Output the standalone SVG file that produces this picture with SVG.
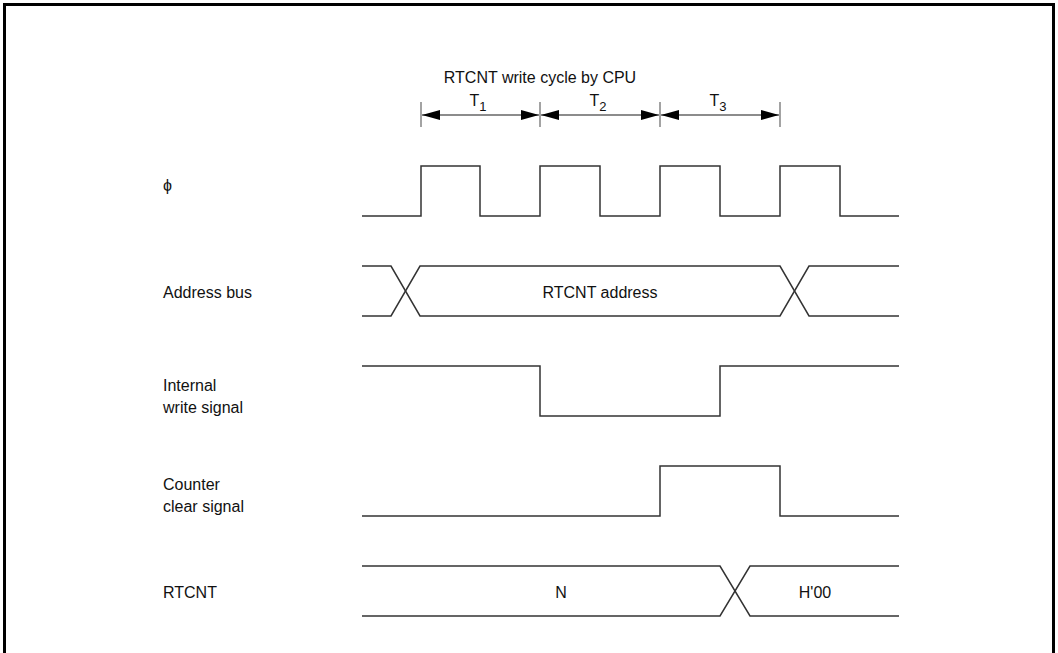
<svg xmlns="http://www.w3.org/2000/svg" width="1058" height="653" viewBox="0 0 1058 653">
<defs>
<style>
text{font-family:"Liberation Sans",Arial,sans-serif;font-size:16px;fill:#111}
.sig{fill:none;stroke:#333;stroke-width:1.5}
.dim{fill:none;stroke:#666;stroke-width:1.3}
.tick{fill:none;stroke:#666;stroke-width:1.2}
.mid{text-anchor:middle}
</style>
<marker id="ah" viewBox="0 0 18 10" refX="18" refY="5" markerWidth="18" markerHeight="10" markerUnits="userSpaceOnUse" orient="auto-start-reverse">
<path d="M0,0 L18,5 L0,10 Z" fill="#000"/>
</marker>
</defs>
<rect width="1058" height="653" fill="#fff"/>
<rect x="4.5" y="4.5" width="1049" height="670" fill="none" stroke="#000" stroke-width="3"/>
<g id="title"><text class="mid" x="540" y="83">RTCNT write cycle by CPU</text></g>
<g id="timing">
<line class="tick" x1="421" y1="102" x2="421" y2="127"/>
<line class="tick" x1="540" y1="102" x2="540" y2="127"/>
<line class="tick" x1="660" y1="102" x2="660" y2="127"/>
<line class="tick" x1="780" y1="102" x2="780" y2="127"/>
<text class="mid" x="478" y="106">T<tspan font-size="13" dy="5">1</tspan></text>
<text class="mid" x="598" y="106">T<tspan font-size="13" dy="5">2</tspan></text>
<text class="mid" x="718" y="106">T<tspan font-size="13" dy="5">3</tspan></text>
</g>
<g id="connectors">
<line class="dim" x1="422" y1="115" x2="539" y2="115" marker-start="url(#ah)" marker-end="url(#ah)"/>
<line class="dim" x1="541" y1="115" x2="659" y2="115" marker-start="url(#ah)" marker-end="url(#ah)"/>
<line class="dim" x1="661" y1="115" x2="779" y2="115" marker-start="url(#ah)" marker-end="url(#ah)"/>
</g>
<g id="phi">
<text x="163" y="191">ϕ</text>
<path class="sig" d="M362,216 H421 V166 H480 V216 H540 V166 H600 V216 H660 V166 H720 V216 H780 V166 H840 V216 H899"/>
</g>
<g id="address-bus">
<text x="163" y="298">Address bus</text>
<path class="sig" d="M362,266 H391 L420,316 H780 L809,266 H899"/>
<path class="sig" d="M362,316 H391 L420,266 H780 L809,316 H899"/>
<text class="mid" x="600" y="298">RTCNT address</text>
</g>
<g id="internal-write">
<text x="163" y="391">Internal</text>
<text x="163" y="413">write signal</text>
<path class="sig" d="M362,366 H540 V416 H720 V366 H899"/>
</g>
<g id="counter-clear">
<text x="163" y="490">Counter</text>
<text x="163" y="512">clear signal</text>
<path class="sig" d="M362,516 H660 V466 H780 V516 H899"/>
</g>
<g id="rtcnt">
<text x="163" y="598">RTCNT</text>
<path class="sig" d="M362,566 H720 L750,616 H899"/>
<path class="sig" d="M362,616 H720 L750,566 H899"/>
<text class="mid" x="561" y="598">N</text>
<text class="mid" x="815" y="598">H'00</text>
</g>
</svg>
